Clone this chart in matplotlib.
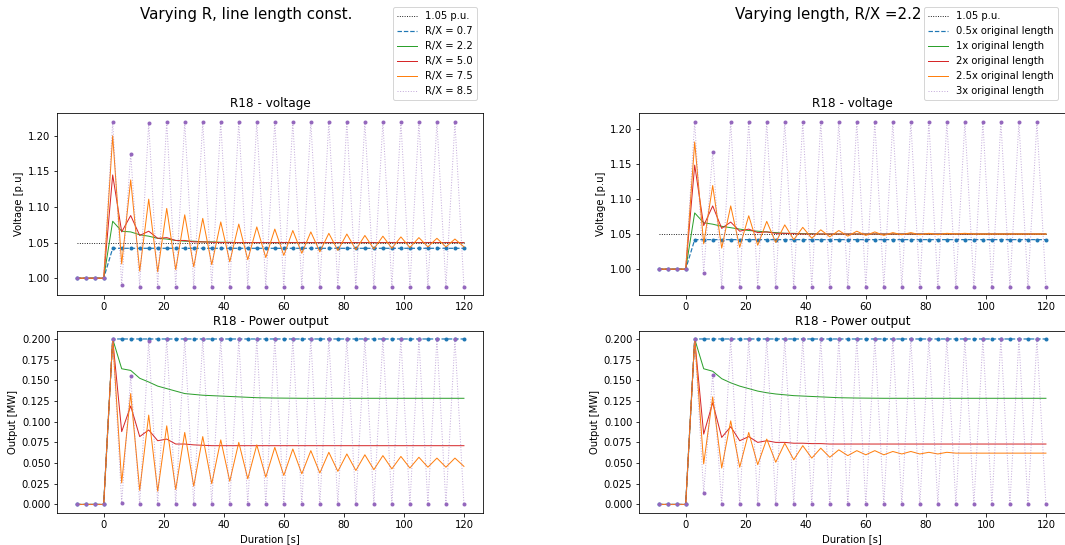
import numpy as np
import matplotlib
matplotlib.use('Agg')
import matplotlib.pyplot as plt

# time axis [s]
time = np.arange(-9, 121, 3)
pre_v = [1.0, 1.0, 1.0, 1.0]
pre_p = [0.0, 0.0, 0.0, 0.0]
ref_v = 1.05

# ---- left column: varying R/X ----
labels_r = ['R/X = 0.7', 'R/X = 2.2', 'R/X = 5.0', 'R/X = 7.5', 'R/X = 8.5']

v_r07 = pre_v + [1.042] * 40
v_r22 = pre_v + [1.080, 1.066, 1.065, 1.061, 1.059, 1.056, 1.055, 1.053, 1.052, 1.052,
                 1.051, 1.051, 1.0505, 1.0505, 1.050, 1.050, 1.050, 1.050, 1.050, 1.050,
                 1.050, 1.050, 1.050, 1.050, 1.050, 1.050, 1.050, 1.050, 1.050, 1.050,
                 1.050, 1.050, 1.050, 1.050, 1.050, 1.050, 1.050, 1.050, 1.050, 1.050]
v_r50 = pre_v + [1.145, 1.065, 1.088, 1.060, 1.066, 1.056, 1.057, 1.053, 1.053, 1.051,
                 1.051, 1.0505, 1.050, 1.050, 1.050, 1.050, 1.050, 1.050, 1.050, 1.050,
                 1.050, 1.050, 1.050, 1.050, 1.050, 1.050, 1.050, 1.050, 1.050, 1.050,
                 1.050, 1.050, 1.050, 1.050, 1.050, 1.050, 1.050, 1.050, 1.050, 1.050]
v_r75 = pre_v + [1.200, 1.020, 1.138, 1.010, 1.111, 1.009, 1.098, 1.012, 1.089, 1.016,
                 1.084, 1.019, 1.079, 1.023, 1.076, 1.026, 1.072, 1.029, 1.069, 1.032,
                 1.067, 1.035, 1.065, 1.037, 1.063, 1.039, 1.062, 1.040, 1.060, 1.041,
                 1.059, 1.042, 1.058, 1.043, 1.057, 1.044, 1.056, 1.044, 1.055, 1.044]
v_r85 = pre_v + [1.220, 0.990, 1.175, 0.988, 1.218, 0.988, 1.220, 0.988, 1.220, 0.988,
                 1.220, 0.988, 1.220, 0.988, 1.220, 0.988, 1.220, 0.988, 1.220, 0.988,
                 1.220, 0.988, 1.220, 0.988, 1.220, 0.988, 1.220, 0.988, 1.220, 0.988,
                 1.220, 0.988, 1.220, 0.988, 1.220, 0.988, 1.220, 0.988, 1.220, 0.988]

p_r07 = pre_p + [0.200] * 40
p_r22 = pre_p + [0.200, 0.164, 0.162, 0.1525, 0.148, 0.143, 0.140, 0.137, 0.134, 0.133,
                 0.132, 0.1315, 0.131, 0.1305, 0.130, 0.1295, 0.129, 0.1288, 0.1286, 0.1285,
                 0.1284, 0.1283, 0.1283, 0.1283, 0.1283, 0.1283, 0.1283, 0.1283, 0.1283, 0.1283,
                 0.1283, 0.1283, 0.1283, 0.1283, 0.1283, 0.1283, 0.1283, 0.1283, 0.1283, 0.1283]
p_r50 = pre_p + [0.200, 0.088, 0.119, 0.082, 0.090, 0.077, 0.079, 0.073, 0.073, 0.072,
                 0.0715, 0.071, 0.071, 0.071, 0.071, 0.071, 0.071, 0.071, 0.071, 0.071,
                 0.071, 0.071, 0.071, 0.071, 0.071, 0.071, 0.071, 0.071, 0.071, 0.071,
                 0.071, 0.071, 0.071, 0.071, 0.071, 0.071, 0.071, 0.071, 0.071, 0.071]
p_r75 = pre_p + [0.200, 0.026, 0.134, 0.017, 0.108, 0.016, 0.095, 0.018, 0.087, 0.022,
                 0.082, 0.025, 0.078, 0.028, 0.075, 0.031, 0.072, 0.033, 0.069, 0.035,
                 0.067, 0.037, 0.065, 0.038, 0.063, 0.040, 0.061, 0.041, 0.060, 0.042,
                 0.059, 0.043, 0.058, 0.044, 0.057, 0.045, 0.056, 0.045, 0.056, 0.046]
p_r85 = pre_p + [0.200, 0.002, 0.155, 0.000, 0.198, 0.000, 0.200, 0.000, 0.200, 0.000,
                 0.200, 0.000, 0.200, 0.000, 0.200, 0.000, 0.200, 0.000, 0.200, 0.000,
                 0.200, 0.000, 0.200, 0.000, 0.200, 0.000, 0.200, 0.000, 0.200, 0.000,
                 0.200, 0.000, 0.200, 0.000, 0.200, 0.000, 0.200, 0.000, 0.200, 0.000]

# ---- right column: varying line length, R/X = 2.2 ----
labels_l = ['0.5x original length', '1x original length', '2x original length',
            '2.5x original length', '3x original length']

v_l05 = pre_v + [1.042] * 40
v_l1 = pre_v + [1.080, 1.066, 1.064, 1.061, 1.059, 1.057, 1.055, 1.054, 1.053, 1.052,
                1.051, 1.051, 1.0505, 1.0505, 1.050, 1.050, 1.050, 1.050, 1.050, 1.050,
                1.050, 1.050, 1.050, 1.050, 1.050, 1.050, 1.050, 1.050, 1.050, 1.050,
                1.050, 1.050, 1.050, 1.050, 1.050, 1.050, 1.050, 1.050, 1.050, 1.050]
v_l2 = pre_v + [1.148, 1.062, 1.090, 1.058, 1.067, 1.054, 1.057, 1.052, 1.053, 1.051,
                1.051, 1.0505, 1.050, 1.050, 1.050, 1.050, 1.050, 1.050, 1.050, 1.050,
                1.050, 1.050, 1.050, 1.050, 1.050, 1.050, 1.050, 1.050, 1.050, 1.050,
                1.050, 1.050, 1.050, 1.050, 1.050, 1.050, 1.050, 1.050, 1.050, 1.050]
v_l25 = pre_v + [1.181, 1.036, 1.119, 1.030, 1.090, 1.031, 1.076, 1.034, 1.068, 1.038,
                 1.063, 1.042, 1.0595, 1.044, 1.056, 1.046, 1.055, 1.047, 1.054, 1.048,
                 1.053, 1.048, 1.052, 1.049, 1.052, 1.049, 1.051, 1.049, 1.051, 1.050,
                 1.051, 1.050, 1.050, 1.050, 1.050, 1.050, 1.050, 1.050, 1.050, 1.050]
v_l3 = pre_v + [1.210, 0.995, 1.167, 0.975, 1.210, 0.975, 1.210, 0.975, 1.210, 0.975,
                1.210, 0.975, 1.210, 0.975, 1.210, 0.975, 1.210, 0.975, 1.210, 0.975,
                1.210, 0.975, 1.210, 0.975, 1.210, 0.975, 1.210, 0.975, 1.210, 0.975,
                1.210, 0.975, 1.210, 0.975, 1.210, 0.975, 1.210, 0.975, 1.210, 0.975]

p_l05 = pre_p + [0.200] * 40
p_l1 = pre_p + [0.200, 0.164, 0.161, 0.152, 0.147, 0.143, 0.140, 0.137, 0.135, 0.1335,
                0.1325, 0.1315, 0.131, 0.1305, 0.130, 0.1295, 0.129, 0.1288, 0.1286, 0.1285,
                0.1284, 0.1283, 0.1283, 0.1283, 0.1283, 0.1283, 0.1283, 0.1283, 0.1283, 0.1283,
                0.1283, 0.1283, 0.1283, 0.1283, 0.1283, 0.1283, 0.1283, 0.1283, 0.1283, 0.1283]
p_l2 = pre_p + [0.200, 0.085, 0.123, 0.081, 0.094, 0.077, 0.082, 0.075, 0.077, 0.075,
                0.075, 0.074, 0.074, 0.0735, 0.0735, 0.073, 0.073, 0.073, 0.073, 0.073,
                0.073, 0.073, 0.073, 0.073, 0.073, 0.073, 0.073, 0.073, 0.073, 0.073,
                0.073, 0.073, 0.073, 0.073, 0.073, 0.073, 0.073, 0.073, 0.073, 0.073]
p_l25 = pre_p + [0.200, 0.049, 0.130, 0.044, 0.101, 0.045, 0.087, 0.048, 0.079, 0.051,
                 0.074, 0.054, 0.071, 0.056, 0.068, 0.057, 0.066, 0.059, 0.065, 0.060,
                 0.065, 0.060, 0.064, 0.061, 0.064, 0.061, 0.063, 0.061, 0.063, 0.062,
                 0.062, 0.062, 0.062, 0.062, 0.062, 0.062, 0.062, 0.062, 0.062, 0.062]
p_l3 = pre_p + [0.200, 0.014, 0.157, 0.000, 0.200, 0.000, 0.200, 0.000, 0.200, 0.000,
                0.200, 0.000, 0.200, 0.000, 0.200, 0.000, 0.200, 0.000, 0.200, 0.000,
                0.200, 0.000, 0.200, 0.000, 0.200, 0.000, 0.200, 0.000, 0.200, 0.000,
                0.200, 0.000, 0.200, 0.000, 0.200, 0.000, 0.200, 0.000, 0.200, 0.000]

W, H = 1065, 545


def px_axes(fig, left, top, right, bottom):
    return fig.add_axes([left / W, 1 - bottom / H, (right - left) / W, (bottom - top) / H])


def plot_series(ax, series, labels, ref=None):
    lines = []
    if ref is not None:
        l, = ax.plot(time, [ref] * len(time), ':', color='k', lw=0.9, label='1.05 p.u.')
    else:
        l, = ax.plot([], [], ':', color='k', lw=0.9, label='1.05 p.u.')
    lines.append(l)
    # order: blue dashed, green, red, orange, purple dotted
    colors = ['C0', 'C2', 'C3', 'C1', 'C4']
    styles = ['--', '-', '-', '-', ':']
    for y, lab, c, ls in zip(series, labels, colors, styles):
        alpha = 0.55 if c == 'C4' else 1.0
        lw = 1.2 if c == 'C0' else 1.0
        l, = ax.plot(time, y, ls, color=c, lw=lw, alpha=alpha, label=lab)
        lines.append(l)
        if c in ('C0', 'C4'):
            ax.plot(time, y, 'o', color=c, ms=4, mew=0)
    ax.set_xticks([0, 20, 40, 60, 80, 100, 120])
    return lines


fig = plt.figure(figsize=(W / 72, H / 72), dpi=72)

ax1 = px_axes(fig, 57.3, 113.3, 483.3, 295)
ax2 = px_axes(fig, 57.3, 330.7, 483.3, 512.7)
ax3 = px_axes(fig, 639.3, 113.3, 1065.3, 295)
ax4 = px_axes(fig, 639.3, 330.7, 1065.3, 512.7)

h1 = plot_series(ax1, [v_r07, v_r22, v_r50, v_r75, v_r85], labels_r, ref_v)
plot_series(ax2, [p_r07, p_r22, p_r50, p_r75, p_r85], labels_r)
h3 = plot_series(ax3, [v_l05, v_l1, v_l2, v_l25, v_l3], labels_l, ref_v)
plot_series(ax4, [p_l05, p_l1, p_l2, p_l25, p_l3], labels_l)

for ax in (ax1, ax3):
    ax.set_title('R18 - voltage')
    ax.set_ylabel('Voltage [p.u]')
    ax.set_yticks([1.00, 1.05, 1.10, 1.15, 1.20])
for ax in (ax2, ax4):
    ax.set_title('R18 - Power output')
    ax.set_ylabel('Output [MW]')
    ax.set_xlabel('Duration [s]')
    ax.set_yticks(np.arange(0, 0.2001, 0.025))
    ax.yaxis.set_major_formatter(matplotlib.ticker.FormatStrFormatter('%.3f'))

fig.text(246 / W, 1 - 14 / H, 'Varying R, line length const.', ha='center', va='center', fontsize=15)
fig.text(828 / W, 1 - 14 / H, 'Varying length, R/X =2.2', ha='center', va='center', fontsize=15)

fig.legend(handles=h1, loc='upper right', bbox_to_anchor=(482 / W, 1 - 2 / H),
           bbox_transform=fig.transFigure)
fig.legend(handles=h3, loc='upper right', bbox_to_anchor=(1063 / W, 1 - 2 / H),
           bbox_transform=fig.transFigure)

fig.savefig('out.png', dpi=72)
